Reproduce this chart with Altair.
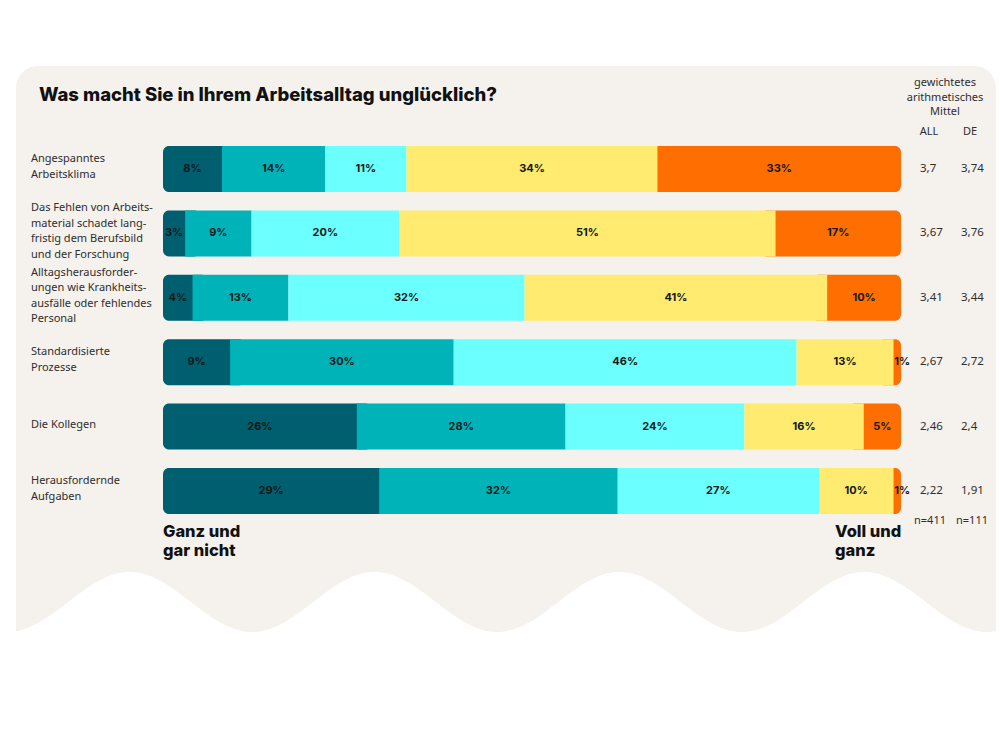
import altair as alt
import pandas as pd

# ---------------- data ----------------
rows = [
    "Angespanntes Arbeitsklima",
    "Das Fehlen von Arbeitsmaterial",
    "Alltagsherausforderungen",
    "Standardisierte Prozesse",
    "Die Kollegen",
    "Herausfordernde Aufgaben",
]
row_lines = [
    ["Angespanntes", "Arbeitsklima"],
    ["Das Fehlen von Arbeits-", "material schadet lang-", "fristig dem Berufsbild", "und der Forschung"],
    ["Alltagsherausforder-", "ungen wie Krankheits-", "ausfälle oder fehlendes", "Personal"],
    ["Standardisierte", "Prozesse"],
    ["Die Kollegen"],
    ["Herausfordernde", "Aufgaben"],
]
v1 = [8, 3, 4, 9, 26, 29]      # Ganz und gar nicht
v2 = [14, 9, 13, 30, 28, 32]
v3 = [11, 20, 32, 46, 24, 27]
v4 = [34, 51, 41, 13, 16, 10]
v5 = [33, 17, 10, 1, 5, 1]     # Voll und ganz
mean_all = ["3,7", "3,67", "3,41", "2,67", "2,46", "2,22"]
mean_de = ["3,74", "3,76", "3,44", "2,72", "2,4", "1,91"]

levels = [1, 2, 3, 4, 5]
colors = ["#005f6e", "#00b3b8", "#6bfffd", "#ffeb70", "#ff6e00"]

# ---------------- tables ----------------
recs = []
for i, r in enumerate(rows):
    vals = [v1[i], v2[i], v3[i], v4[i], v5[i]]
    tot = sum(vals)
    acc = 0.0
    for k, v in enumerate(vals):
        s = acc / tot * 100
        acc += v
        e = acc / tot * 100
        recs.append({"row": r, "level": levels[k], "start": s, "end": e,
                     "mid": (s + e) / 2, "label": f"{v}%", "v": v})
seg = pd.DataFrame(recs)
caps = seg[seg.level.isin([1, 5])].copy()
mids = seg[seg.level.isin([2, 3, 4])]

rowdf = pd.DataFrame({"row": rows, "lines": row_lines, "n": [len(l) for l in row_lines],
                      "all": mean_all, "de": mean_de})

# ---------------- scales ----------------
xs = alt.Scale(domain=[0, 100], range=[163, 901], zero=False, nice=False)
ys = alt.Scale(type="band", domain=rows, range=[146, 514], paddingInner=0.286, paddingOuter=0)
cs = alt.Scale(domain=levels, range=colors)
Y = alt.Y("row:N", scale=ys, axis=None, sort=rows)

BG = "#f5f1ed"
BODY = "Noto Sans"
BOLD = "Inter"
TXT = "#2e2e2e"
one = alt.Data(values=[{}])

panel = alt.Chart(one).mark_rect(color=BG, cornerRadius=22).encode(
    x=alt.value(16), x2=alt.value(996), y=alt.value(66), y2=alt.value(130))

pix_x = alt.Scale(domain=[0, 1000], range=[0, 1000], zero=False, nice=False)
pix_y = alt.Scale(domain=[0, 750], range=[0, 750], zero=False, nice=False)
wave = alt.Chart(alt.sequence(16, 998, 2, as_="px")).transform_calculate(
    wy="602 + 30*cos(2*PI*(datum.px-252)/245)",
    top="100",
).mark_area(color=BG, orient="vertical").encode(
    x=alt.X("px:Q", scale=pix_x, axis=None),
    y=alt.Y("wy:Q", scale=pix_y, axis=None),
    y2="top:Q")

capbars = alt.Chart(caps).transform_calculate(
    cs="datum.level == 5 ? datum.start - 2 : datum.start",
    ce="datum.level == 1 ? datum.end + 2 : datum.end",
).mark_bar(cornerRadius=6).encode(
    x=alt.X("cs:Q", scale=xs, axis=None), x2="ce:Q", y=Y,
    color=alt.Color("level:O", scale=cs, legend=None))

midbars = alt.Chart(mids).mark_bar(cornerRadius=0).encode(
    x=alt.X("start:Q", scale=xs, axis=None), x2="end:Q", y=Y,
    color=alt.Color("level:O", scale=cs, legend=None))


def seglab(cond, dx):
    return alt.Chart(seg).transform_filter(cond).mark_text(
        font=BOLD, fontWeight="bold", fontSize=11, color="#14181a", baseline="middle", dx=dx
    ).encode(x=alt.X("mid:Q", scale=xs, axis=None), y=Y, text="label:N")


LH = 15.5


def rowlab(n):
    return alt.Chart(rowdf).transform_filter(f"datum.n == {n}").mark_text(
        font=BODY, fontSize=11, color=TXT, align="left", baseline="middle",
        lineHeight=LH, dy=-2 - (n - 1) * LH / 2
    ).encode(x=alt.value(31), y=Y, text="lines")


allcol = alt.Chart(rowdf).mark_text(font=BODY, fontSize=11.5, color=TXT, align="left",
                                     baseline="middle").encode(
    x=alt.value(920), y=Y, text="all:N")
decol = alt.Chart(rowdf).mark_text(font=BODY, fontSize=11.5, color=TXT, align="left",
                                    baseline="middle").encode(
    x=alt.value(961), y=Y, text="de:N")


def txt(text, x, y, size=11.5, font=BODY, weight="normal", align="center", color=TXT, lh=None):
    kw = dict(text=text, font=font, fontSize=size, fontWeight=weight, align=align,
              baseline="middle", color=color)
    if lh is not None:
        kw["lineHeight"] = lh
    return alt.Chart(one).mark_text(**kw).encode(x=alt.value(x), y=alt.value(y))


title = txt("Was macht Sie in Ihrem Arbeitsalltag unglücklich?", 39, 95, size=18.5,
            font=BOLD, weight=800, align="left", color="#111111")
header = txt(["gewichtetes", "arithmetisches", "Mittel"], 945, 83, size=11, lh=14.5)
h_all = txt("ALL", 929, 132, size=11)
h_de = txt("DE", 970, 132, size=11)
n_all = txt("n=411", 930, 521, size=11)
n_de = txt("n=111", 972, 521, size=11)
lo = txt(["Ganz und", "gar nicht"], 163, 532, size=16.5, font=BOLD, weight=800,
         align="left", color="#111111", lh=19)
hi = txt(["Voll und", "ganz"], 835, 532, size=16.5, font=BOLD, weight=800,
         align="left", color="#111111", lh=19)

chart = alt.layer(
    panel, wave, capbars, midbars, seglab("datum.v > 1", 0), seglab("datum.v <= 1", 5),
    rowlab(1), rowlab(2), rowlab(4), allcol, decol,
    title, header, h_all, h_de, n_all, n_de, lo, hi
).resolve_scale(x="independent", y="independent", color="independent").properties(
    width=1000, height=750, padding=0,
    autosize=alt.AutoSizeParams(type="none"), background="white"
).configure_view(stroke=None)

chart.save("out.html", embed_options={"renderer": "svg", "actions": False})
